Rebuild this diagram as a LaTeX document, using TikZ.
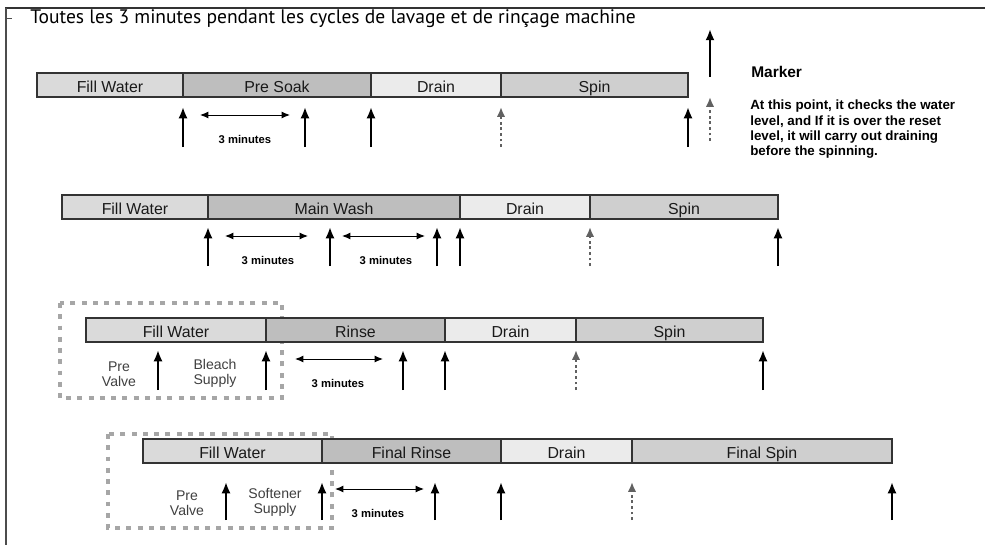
\documentclass[tikz,border=0pt]{standalone}
\usepackage{fontspec}
\setmainfont{Liberation Sans}
\newfontfamily\titlefont{PT Sans}
\usetikzlibrary{arrows.meta}
\definecolor{fillgray}{HTML}{DADADA}
\definecolor{washgray}{HTML}{BEBEBE}
\definecolor{draingray}{HTML}{EBEBEB}
\definecolor{spingray}{HTML}{CFCFCF}
\tikzset{seg/.style = {draw = black!80, line width = 0.9pt, minimum height = 0.6cm, inner sep = 0, outer sep = 0, text height = 11pt, text depth = 0pt, text = black!90, font = \fontsize{11.3}{13}\selectfont}}
\tikzset{edge/.style = {->, > = {Latex[length = 8pt, width = 6.5pt]}, line width = 1.7pt}}
\tikzset{check/.style = {->, > = {Latex[length = 7pt, width = 6pt]}, line width = 2pt, black!62, dash pattern = on 2pt off 2pt}}
\tikzset{span/.style = {<->, > = {Latex[length = 6pt, width = 5pt]}, line width = 0.7pt}}
\tikzset{mins/.style = {font = \bfseries\fontsize{8}{10}\selectfont}}
\tikzset{valve/.style = {align = center, text = black!75, inner sep = 0, font = \fontsize{10}{10.7}\selectfont}}
\tikzset{supply/.style = {draw = black!35, line width = 3.4pt, dash pattern = on 3.4pt off 4.6pt}}
\begin{document}
\begin{tikzpicture}[x = 0.025cm, y = -0.025cm]
	\useasboundingbox (0, 0) rectangle (985, 545);
	\draw[black!80, line width = 1pt] (5, 8) -- (985, 8);
	\draw[black!70, line width = 0.8pt] (6, 8) -- (6, 545);
	\draw[black!70, line width = 0.6pt] (6, 18) -- (12, 18);
	\node[anchor = base west, inner sep = 0, font = \titlefont\fontsize{13.9}{17}\selectfont] (title) at (30, 24) {Toutes les 3 minutes pendant les cycles de lavage et de rinçage machine};

	% legend
	\node[anchor = base west, inner sep = 0, font = \bfseries\fontsize{11}{13}\selectfont] (marker) at (751, 77) {Marker};
	\node[anchor = north west, inner sep = 0, align = left, font = \bfseries\fontsize{9.5}{10.7}\selectfont] (note) at (750, 100) {At this point, it checks the water\\level, and If it is over the reset\\level, it will carry out draining\\before the spinning.};
	\draw[edge] (710, 77) to (710, 29);
	\draw[check] (710, 141) to (710, 97);

	% pre soak
	\node[seg, fill = fillgray, minimum width = 3.65cm] (f1) at (110, 85) {Fill Water};
	\node[seg, fill = washgray, minimum width = 4.7cm] (w1) at (277, 85) {Pre Soak};
	\node[seg, fill = draingray, minimum width = 3.25cm] (d1) at (436, 85) {Drain};
	\node[seg, fill = spingray, minimum width = 4.675cm] (s1) at (594.5, 85) {Spin};
	\draw[edge] (183, 147) to (183, 107);
	\draw[edge] (305, 147) to (305, 107);
	\draw[edge] (371, 147) to (371, 107);
	\draw[check] (501, 147) to (501, 107);
	\draw[edge] (688, 147) to (688, 107);
	\draw[span] (200, 115) to (290, 115);
	\node[mins] (m1) at (245, 139) {3 minutes};

	% main wash
	\node[seg, fill = fillgray, minimum width = 3.65cm] (f2) at (135, 207) {Fill Water};
	\node[seg, fill = washgray, minimum width = 6.3cm] (w2) at (334, 207) {Main Wash};
	\node[seg, fill = draingray, minimum width = 3.25cm] (d2) at (525, 207) {Drain};
	\node[seg, fill = spingray, minimum width = 4.7cm] (s2) at (684, 207) {Spin};
	\draw[edge] (208, 266) to (208, 227);
	\draw[edge] (330, 266) to (330, 227);
	\draw[edge] (437, 266) to (437, 227);
	\draw[edge] (460, 266) to (460, 227);
	\draw[check] (590, 266) to (590, 227);
	\draw[edge] (778, 266) to (778, 227);
	\draw[span] (225, 236) to (308, 236);
	\draw[span] (342, 236) to (425, 236);
	\node[mins] (m2) at (268, 260) {3 minutes};
	\node[mins] (m3) at (386, 260) {3 minutes};

	% rinse
	\draw[supply] (60, 303) rectangle (282, 398);
	\node[seg, fill = fillgray, minimum width = 4.5cm] (f3) at (176, 330) {Fill Water};
	\node[seg, fill = washgray, minimum width = 4.475cm] (w3) at (355.5, 330) {Rinse};
	\node[seg, fill = draingray, minimum width = 3.275cm] (d3) at (510.5, 330) {Drain};
	\node[seg, fill = spingray, minimum width = 4.675cm] (s3) at (669.5, 330) {Spin};
	\node[valve] (p3) at (119, 374) {Pre\\Valve};
	\node[valve] (b3) at (215, 373) {Bleach\\Supply};
	\draw[edge] (158, 390) to (158, 350);
	\draw[edge] (266, 390) to (266, 350);
	\draw[edge] (403, 390) to (403, 350);
	\draw[edge] (445, 390) to (445, 350);
	\draw[check] (576, 390) to (576, 350);
	\draw[edge] (763, 390) to (763, 350);
	\draw[span] (295, 359) to (383, 359);
	\node[mins] (m4) at (338, 383) {3 minutes};

	% final rinse
	\draw[supply] (108, 434) rectangle (332, 528);
	\node[seg, fill = fillgray, minimum width = 4.475cm] (f4) at (232.5, 451) {Fill Water};
	\node[seg, fill = washgray, minimum width = 4.475cm] (w4) at (411.5, 451) {Final Rinse};
	\node[seg, fill = draingray, minimum width = 3.275cm] (d4) at (566.5, 451) {Drain};
	\node[seg, fill = spingray, minimum width = 6.5cm] (s4) at (762, 451) {Final Spin};
	\node[valve] (p4) at (187, 503) {Pre\\Valve};
	\node[valve] (b4) at (275, 502) {Softener\\Supply};
	\draw[edge] (226, 520) to (226, 482);
	\draw[edge] (322, 520) to (322, 482);
	\draw[edge] (435, 520) to (435, 482);
	\draw[edge] (501, 520) to (501, 482);
	\draw[check] (632, 520) to (632, 482);
	\draw[edge] (892, 520) to (892, 482);
	\draw[span] (335, 489) to (424, 489);
	\node[mins] (m5) at (378, 513) {3 minutes};
\end{tikzpicture}
\end{document}
